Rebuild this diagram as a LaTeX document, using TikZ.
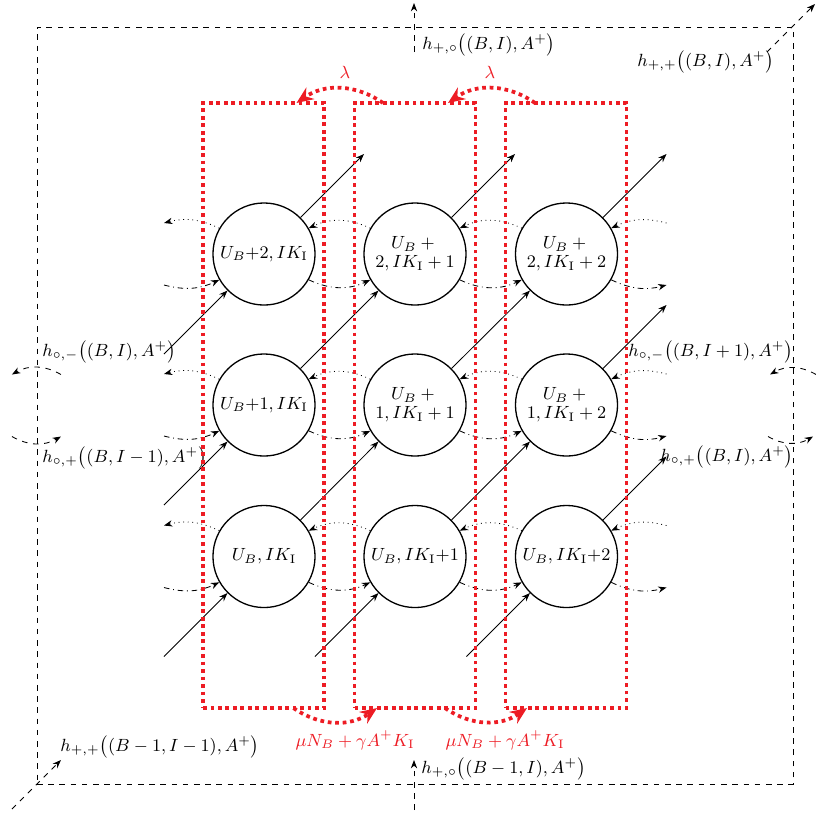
\RequirePackage{fix-cm}
\documentclass[tikz,border=0pt]{standalone}
\usetikzlibrary{arrows.meta,calc}
\definecolor{rateRed}{RGB}{237,28,36}
\begin{document}
\begin{tikzpicture}[x=0.535pt,y=0.535pt,
  every node/.style={font=\fontsize{9.45}{11}\selectfont},
  state/.style={circle,draw,line width=0.7pt,minimum size=54.6pt,inner sep=0pt,align=center},
  flow/.style={-{Stealth[length=4.5pt,width=3.4pt]},line width=0.45pt},
  hop/.style={flow,dotted},
  hopb/.style={flow,dashdotted},
  bnd/.style={flow,dashed},
  lab/.style={inner sep=0pt,anchor=west},
  column/.style={draw=rateRed,line width=2pt,dotted,minimum width=64.7pt,minimum height=323.7pt,inner sep=0pt,outer sep=0pt},
  rate/.style={draw=rateRed,line width=2pt,dotted,-{Stealth[length=9pt,width=7.5pt]}},
  ratelab/.style={text=rateRed,inner sep=0pt}
]
\useasboundingbox (0,0) rectangle (816,-814);

% outer dashed box
\node[draw,dashed,line width=0.45pt,minimum width=404.5pt,minimum height=405pt,inner sep=0pt,outer sep=0pt] (box) at (415,-405.5) {};

% states
\node[state] (n00) at (264,-556.5) {$U_B, IK_\mathrm{I}$};
\node[state] (n10) at (415,-556.5) {$U_B, IK_\mathrm{I}{+}1$};
\node[state] (n20) at (566.5,-556.5) {$U_B, IK_\mathrm{I}{+}2$};
\node[state] (n01) at (264,-405) {$U_B{+}1, IK_\mathrm{I}$};
\node[state] (n11) at (415,-405) {$U_B +{}$\\[-1pt]$1, IK_\mathrm{I}+1$};
\node[state] (n21) at (566.5,-405) {$U_B +{}$\\[-1pt]$1, IK_\mathrm{I}+2$};
\node[state] (n02) at (264,-254) {$U_B{+}2, IK_\mathrm{I}$};
\node[state] (n12) at (415,-254) {$U_B +{}$\\[-1pt]$2, IK_\mathrm{I}+1$};
\node[state] (n22) at (566.5,-254) {$U_B +{}$\\[-1pt]$2, IK_\mathrm{I}+2$};

% diagonal transitions
\foreach \i in {0,1}{\foreach \j in {0,1}{
  \pgfmathtruncatemacro\ii{\i+1}\pgfmathtruncatemacro\jj{\j+1}
  \draw[flow] (n\i\j.45) -- (n\ii\jj.225);}}
\foreach \n in {00,01,02,10,20}{
  \coordinate (din\n) at ($(n\n)+(-100,-100)$);
  \draw[flow] (din\n) -- (n\n.225);}
\foreach \n in {02,12,22,21,20}{
  \coordinate (dout\n) at ($(n\n)+(100,100)$);
  \draw[flow] (n\n.45) -- (dout\n);}

% horizontal transitions
\foreach \j in {0,1,2}{
  \foreach \i in {0,1}{
    \pgfmathtruncatemacro\ii{\i+1}
    \draw[hop] (n\ii\j.150) to[bend right=25] (n\i\j.30);
    \draw[hopb] (n\i\j.330) to[bend right=25] (n\ii\j.210);}
  \coordinate (hl\j) at ($(n0\j)+(-100,31)$);
  \coordinate (hr\j) at ($(n2\j)+(100,31)$);
  \coordinate (bl\j) at ($(n0\j)+(-100,-31)$);
  \coordinate (br\j) at ($(n2\j)+(100,-31)$);
  \draw[hop] (n0\j.150) to[bend right=20] (hl\j);
  \draw[hop] (hr\j) to[bend right=20] (n2\j.30);
  \draw[hopb] (bl\j) to[bend right=20] (n0\j.210);
  \draw[hopb] (n2\j.330) to[bend right=20] (br\j);
}

% boundary transitions
\coordinate (tA) at ($(box.north)+(-1,-25)$);
\coordinate (tB) at ($(box.north)+(-1,24)$);
\coordinate (bA) at ($(box.south)+(-1,-26)$);
\coordinate (bB) at ($(box.south)+(-1,24)$);
\coordinate (trA) at ($(box.north east)+(-26,-25)$);
\coordinate (trB) at ($(box.north east)+(22,23)$);
\coordinate (blA) at ($(box.south west)+(-25,-25)$);
\coordinate (blB) at ($(box.south west)+(24,24)$);
\coordinate (lA) at ($(box.west)+(24,31)$);
\coordinate (lB) at ($(box.west)+(-25,31)$);
\coordinate (lC) at ($(box.west)+(-25,-31)$);
\coordinate (lD) at ($(box.west)+(24,-31)$);
\coordinate (rA) at ($(box.east)+(23,31)$);
\coordinate (rB) at ($(box.east)+(-23,31)$);
\coordinate (rC) at ($(box.east)+(-25,-31)$);
\coordinate (rD) at ($(box.east)+(20,-31)$);
\draw[bnd] (tA) -- (tB);
\draw[bnd] (bA) -- (bB);
\draw[bnd] (trA) -- (trB);
\draw[bnd] (blA) -- (blB);
\draw[bnd] (lA) to[bend right=30] (lB);
\draw[bnd] (lC) to[bend right=30] (lD);
\draw[bnd] (rA) to[bend right=30] (rB);
\draw[bnd] (rC) to[bend right=30] (rD);

% boundary labels
\node[lab] (Lt) at (422,-45) {$h_{+,\circ}\bigl((B,I),A^+\bigr)$};
\node[lab] (Ltr) at (637,-62) {$h_{+,+}\bigl((B,I),A^+\bigr)$};
\node[lab] (Llu) at (42,-352) {$h_{\circ,-}\bigl((B,I),A^+\bigr)$};
\node[lab] (Lld) at (42,-458) {$h_{\circ,+}\bigl((B,I-1),A^+\bigr)$};
\node[lab] (Lru) at (628,-352) {$h_{\circ,-}\bigl((B,I+1),A^+\bigr)$};
\node[lab] (Lrd) at (660,-457) {$h_{\circ,+}\bigl((B,I),A^+\bigr)$};
\node[lab] (Lbl) at (60,-747) {$h_{+,+}\bigl((B-1,I-1),A^+\bigr)$};
\node[lab] (Lb) at (421,-769) {$h_{+,\circ}\bigl((B-1,I),A^+\bigr)$};

% red columns
\node[column] (r1) at (263.5,-405.5) {};
\node[column] (r2) at (415,-405.5) {};
\node[column] (r3) at (566,-405.5) {};
\draw[rate] ($(r2.north)+(-32,0)$) to[bend right=35] ($(r1.north)+(33,0)$);
\draw[rate] ($(r3.north)+(-31,0)$) to[bend right=35] ($(r2.north)+(33,0)$);
\draw[rate] ($(r1.south)+(30,0)$) to[bend right=35] ($(r2.south)+(-38,0)$);
\draw[rate] ($(r2.south)+(30,0)$) to[bend right=35] ($(r3.south)+(-39,0)$);
\node[ratelab] (lam1) at (345,-72) {$\lambda$};
\node[ratelab] (lam2) at (490,-72) {$\lambda$};
\node[ratelab] (mu1) at (355,-740) {$\mu N_B+\gamma A^+K_\mathrm{I}$};
\node[ratelab] (mu2) at (505,-740) {$\mu N_B+\gamma A^+K_\mathrm{I}$};
\end{tikzpicture}
\end{document}
